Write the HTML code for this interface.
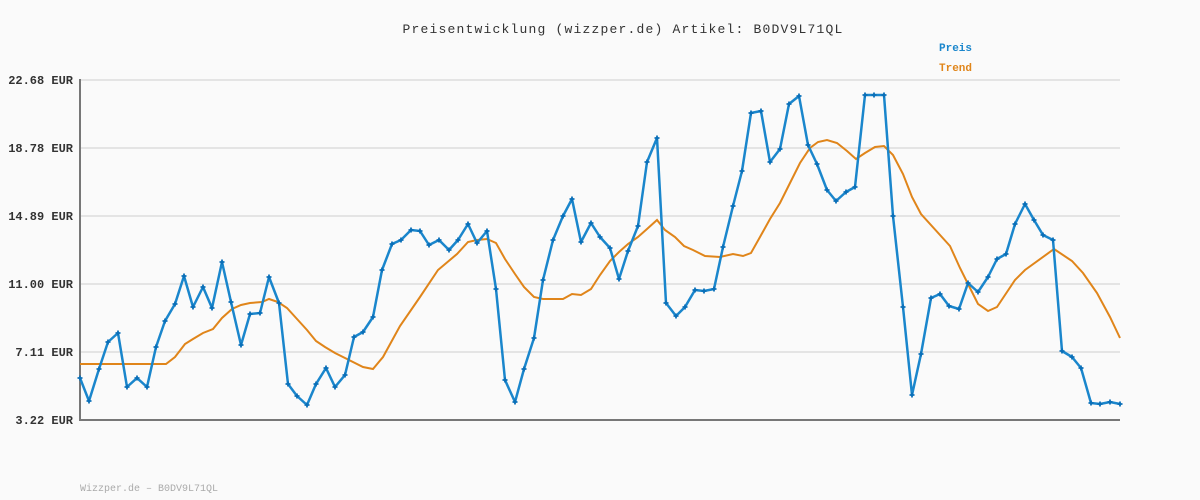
<!DOCTYPE html>
<html><head><meta charset="utf-8"><style>
html,body{margin:0;padding:0;background:#fafafa;}
svg{display:block;}
text{font-family:"Liberation Mono",monospace;}
</style></head><body>
<svg width="1200" height="500" viewBox="0 0 1200 500">
<defs>
<marker id="mk" markerUnits="userSpaceOnUse" markerWidth="8" markerHeight="8" refX="4" refY="4" viewBox="0 0 8 8" overflow="visible">
<path d="M1.5 4h5M4 1.5v5" stroke="#0a6fb8" stroke-width="1.8" fill="none"/>
</marker>
</defs>
<rect width="1200" height="500" fill="#fafafa"/>
<text x="623" y="33" text-anchor="middle" font-size="13" letter-spacing="1.2" fill="#333">Preisentwicklung (wizzper.de) Artikel: B0DV9L71QL</text>
<text x="939" y="51" font-size="11" font-weight="bold" fill="#1a86cc">Preis</text>
<text x="939" y="71" font-size="11" font-weight="bold" fill="#e0851a">Trend</text>
<g stroke="#e4e4e4" stroke-width="2">
<line x1="80" y1="80" x2="1120" y2="80"/><line x1="80" y1="148" x2="1120" y2="148"/>
<line x1="80" y1="216" x2="1120" y2="216"/><line x1="80" y1="284" x2="1120" y2="284"/>
<line x1="80" y1="352" x2="1120" y2="352"/>
</g>
<g font-size="12" font-weight="bold" fill="#333" text-anchor="end">
<text x="73" y="84">22.68 EUR</text><text x="73" y="152">18.78 EUR</text>
<text x="73" y="220">14.89 EUR</text><text x="73" y="288">11.00 EUR</text>
<text x="73" y="356">7.11 EUR</text><text x="73" y="424">3.22 EUR</text>
</g>
<line x1="80" y1="79" x2="80" y2="420" stroke="#777" stroke-width="2"/>
<line x1="79" y1="420" x2="1120" y2="420" stroke="#777" stroke-width="2"/>
<polyline fill="none" stroke="#e0851a" stroke-width="2" points="80,364 166,364 175,357 185,344 193,339 203,333 213,329 222,318 232,309 241,305 250,303 262,302 269,299 278,302 287,308 297,319 307,330 316,341 325,347 335,353 347,359 363,367 373,369 383,357 400,326 420,297 438,270 457,254 468,242 477,240 487,239 496,243 505,259 515,274 524,287 534,297 543,299 553,299 563,299 572,294 581,295 591,289 600,275 610,261 619,252 628,244 638,237 647,229 657,220 665,230 675,237 684,246 693,250 705,256 720,257 733,254 743,256 751,253 760,237 770,219 780,203 790,183 800,163 810,148 818,142 827,140 837,143 847,151 856,159 865,153 875,147 884,146 893,155 903,174 912,197 921,214 950,246 960,268 968,284 978,304 988,311 997,307 1015,280 1025,270 1054,249 1072,261 1083,273 1097,293 1110,317 1120,338"/>
<polyline fill="none" stroke="#1a86cc" stroke-width="2.5" stroke-linejoin="round" marker-start="url(#mk)" marker-mid="url(#mk)" marker-end="url(#mk)" points="80,378 89,401 99,369 108,342 118,333 127,387 137,378 147,387 156,347 165,321 175,304 184,276 193,307 203,287 212,308 222,262 231,302 241,345 250,314 260,313 269,277 279,303 288,384 297,396 307,405 316,384 326,368 335,387 345,375 354,337 363,332 373,317 382,270 392,244 401,240 411,230 420,231 429,245 439,240 449,250 458,240 468,224 477,243 487,231 496,289 505,380 515,402 524,369 534,338 543,280 553,240 563,216 572,199 581,242 591,223 600,237 610,248 619,279 628,251 638,226 647,162 657,138 666,303 676,316 685,307 695,290 704,291 714,289 723,247 733,206 742,171 751,113 761,111 770,162 780,149 789,104 799,96 808,145 817,164 827,190 836,201 846,192 855,187 865,95 874,95 884,95 893,216 903,307 912,395 921,354 931,298 940,294 949,306 959,309 968,283 978,292 988,277 997,259 1006,254 1015,224 1025,204 1034,220 1043,235 1053,240 1062,351 1072,357 1081,368 1091,403 1100,404 1110,402 1120,404"/>
<text x="80" y="491" font-size="10" fill="#aaa">Wizzper.de – B0DV9L71QL</text>
</svg>
</body></html>
